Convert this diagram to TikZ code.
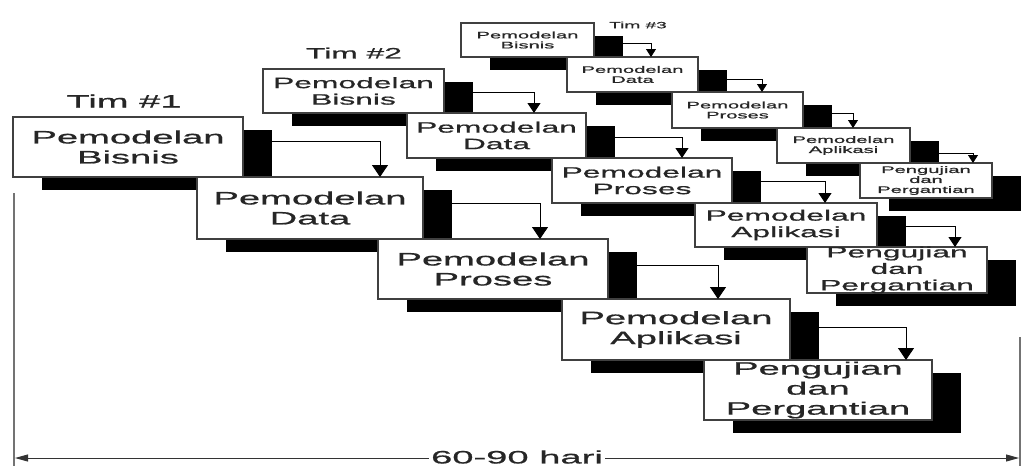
\documentclass[tikz,border=0pt]{standalone}
\usepackage{fontspec}
\setmainfont{Liberation Sans}
\newfontfamily\widesans[FakeStretch=2.12,FakeBold=0.9]{Liberation Sans}
\usetikzlibrary{arrows.meta,calc,shadows}

\begin{document}
\begin{tikzpicture}[x=1pt,y=-1pt,
  phase/.style={draw=black!75, line width=1.3pt, fill=white, inner sep=0pt, outer sep=0pt,
    anchor=north west,
    drop shadow={shadow xshift=29pt, shadow yshift=-13pt, opacity=1, fill=black}},
  bigtxt/.style={font=\widesans\fontsize{18}{20}\selectfont, align=center, inner sep=0pt, text=black!85},
  midtxt/.style={font=\widesans\fontsize{15}{16.5}\selectfont, align=center, inner sep=0pt, text=black!85},
  smalltxt/.style={font=\widesans\fontsize{9.5}{10}\selectfont, align=center, inner sep=0pt, text=black!85},
  flowbig/.style={-{Triangle[width=16pt,length=12pt]}, line width=0.9pt},
  flowmid/.style={-{Triangle[width=13pt,length=10pt]}, line width=0.9pt},
  flowsmall/.style={-{Triangle[width=10pt,length=8pt]}, line width=0.8pt},
  teamlabel/.style={inner sep=0pt, text=black!85},
  guide/.style={draw=black!55, line width=1.6pt},
  span/.style={{Triangle[width=7pt,length=13pt]}-{Triangle[width=7pt,length=13pt]}, line width=0.9pt, draw=black!80}
]
\useasboundingbox (0,0) rectangle (1030,466);

% ---------- Team 3 (smallest cascade) ----------
\node[teamlabel, font=\widesans\fontsize{9}{10}\selectfont] (tim3) at (638,25) {Tim \#3};
\node[phase, minimum width=133pt, minimum height=34pt] (b3) at (461,23) {};
\node[smalltxt] (b3t) at (b3.center) {Pemodelan\\Bisnis};
\node[phase, minimum width=131pt, minimum height=35pt] (d3) at (567,57) {};
\node[smalltxt] (d3t) at (d3.center) {Pemodelan\\Data};
\node[phase, minimum width=131pt, minimum height=36pt] (p3) at (672,92) {};
\node[smalltxt] (p3t) at (p3.center) {Pemodelan\\Proses};
\node[phase, minimum width=133pt, minimum height=35pt] (a3) at (777,128) {};
\node[smalltxt] (a3t) at (a3.center) {Pemodelan\\Aplikasi};
\node[phase, minimum width=132pt, minimum height=35pt] (g3) at (860,163) {};
\node[smalltxt] (g3t) at (g3.center) {Pengujian\\dan\\Pergantian};

\draw[flowsmall] ($(b3.north east)+(29,20)$) -| ($(d3.north west)+(84,0)$);
\draw[flowsmall] ($(d3.north east)+(29,22)$) -| ($(p3.north west)+(90,0)$);
\draw[flowsmall] ($(p3.north east)+(29,21)$) -| ($(a3.north west)+(76,0)$);
\draw[flowsmall] ($(a3.north east)+(29,25)$) -| ($(g3.north west)+(113,0)$);

% ---------- Team 2 (medium cascade) ----------
\node[teamlabel, font=\widesans\fontsize{15}{16}\selectfont] (tim2) at (354,53) {Tim \#2};
\node[phase, minimum width=181pt, minimum height=44pt] (b2) at (263,69) {};
\node[midtxt] (b2t) at (b2.center) {Pemodelan\\Bisnis};
\node[phase, minimum width=179pt, minimum height=45pt] (d2) at (407,113) {};
\node[midtxt] (d2t) at (d2.center) {Pemodelan\\Data};
\node[phase, minimum width=180pt, minimum height=45pt] (p2) at (552,158) {};
\node[midtxt] (p2t) at (p2.center) {Pemodelan\\Proses};
\node[phase, minimum width=182pt, minimum height=44pt] (a2) at (695,203) {};
\node[midtxt] (a2t) at (a2.center) {Pemodelan\\Aplikasi};
\node[phase, minimum width=180pt, minimum height=46pt] (g2) at (807,247) {};
\node[midtxt] (g2t) at (g2.center) {Pengujian\\dan\\Pergantian};

\draw[flowmid] ($(b2.north east)+(29,23)$) -| ($(d2.north west)+(127,0)$);
\draw[flowmid] ($(d2.north east)+(29,24)$) -| ($(p2.north west)+(130,0)$);
\draw[flowmid] ($(p2.north east)+(29,23)$) -| ($(a2.north west)+(130,0)$);
\draw[flowmid] ($(a2.north east)+(29,23)$) -| ($(g2.north west)+(148,0)$);

% ---------- Team 1 (largest cascade) ----------
\node[teamlabel, font=\widesans\fontsize{18}{20}\selectfont] (tim1) at (124,101) {Tim \#1};
\node[phase, minimum width=230pt, minimum height=60pt] (b1) at (13,117) {};
\node[bigtxt] (b1t) at (b1.center) {Pemodelan\\Bisnis};
\node[phase, minimum width=226pt, minimum height=62pt] (d1) at (197,177) {};
\node[bigtxt] (d1t) at (d1.center) {Pemodelan\\Data};
\node[phase, minimum width=230pt, minimum height=60pt] (p1) at (378,239) {};
\node[bigtxt] (p1t) at (p1.center) {Pemodelan\\Proses};
\node[phase, minimum width=228pt, minimum height=61pt] (a1) at (562,299) {};
\node[bigtxt] (a1t) at (a1.center) {Pemodelan\\Aplikasi};
\node[phase, minimum width=228pt, minimum height=60pt] (g1) at (704,360) {};
\node[bigtxt] (g1t) at (g1.center) {Pengujian\\dan\\Pergantian};

\draw[flowbig] ($(b1.north east)+(29,24)$) -| ($(d1.north west)+(183,0)$);
\draw[flowbig] ($(d1.north east)+(29,26)$) -| ($(p1.north west)+(162,0)$);
\draw[flowbig] ($(p1.north east)+(29,26)$) -| ($(a1.north west)+(156,0)$);
\draw[flowbig] ($(a1.north east)+(29,28)$) -| ($(g1.north west)+(202,0)$);

% ---------- overall time span ----------
\coordinate (ltop) at (14,193);
\coordinate (lbot) at (14,466);
\coordinate (rtop) at (1020,337);
\coordinate (rbot) at (1020,466);
\draw[guide] (ltop) -- (lbot);
\draw[guide] (rtop) -- (rbot);
\coordinate (sl) at (15,458);
\coordinate (sr) at (1019,458);
\draw[span] (sl) -- (sr);
\node[fill=white, inner xsep=2pt, inner ysep=1pt, text=black!85,
  font=\widesans\fontsize{18}{20}\selectfont] (days) at (517,457) {60-90 hari};
\end{tikzpicture}
\end{document}
